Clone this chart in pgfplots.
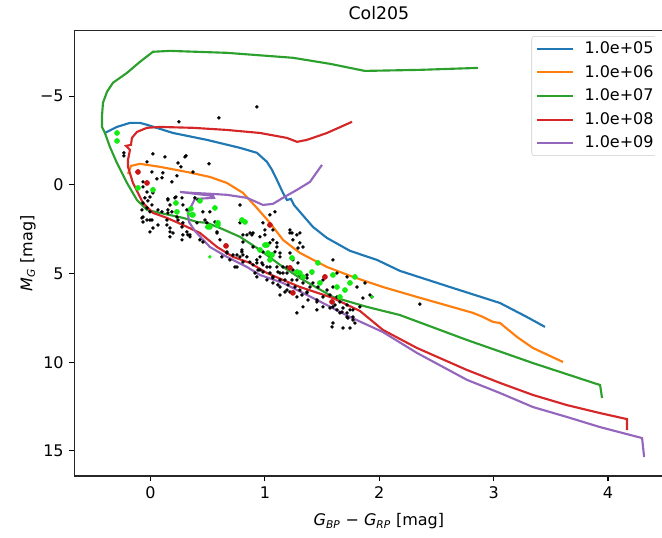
\documentclass[border=0pt]{standalone}
\usepackage{fontspec}
\setmainfont{DejaVu Sans}
\usepackage{pgfplots}
\pgfplotsset{compat=1.18}
\definecolor{cblue}{HTML}{1F77B4}
\definecolor{corange}{HTML}{FF7F0E}
\definecolor{cgreen}{HTML}{2CA02C}
\definecolor{cred}{HTML}{D62728}
\definecolor{cpurple}{HTML}{9467BD}
\definecolor{dotgreen}{HTML}{14EC14}
\definecolor{dotred}{HTML}{C81414}
\begin{document}
\fontsize{12}{14.5}\selectfont
\begin{tikzpicture}
\begin{axis}[
  name=ax,
  scale only axis,
  width=456.9pt, height=334pt,
  xmin=-0.667, xmax=4.66,
  ymin=-8.7, ymax=16.42,
  y dir=reverse,
  clip=false,
  xtick={0,1,2,3,4}, xticklabels={0,1,2,3,4},
  ytick={-5,0,5,10,15}, yticklabels={−5,0,5,10,15},
  tick pos=left, tick align=outside,
  major tick length=3.75pt,
  every tick/.style={black, line width=0.8pt},
  axis line style={draw=none},
  /pgf/number format/assume math mode=true,
  ticklabel style={font=\fontsize{12}{14.5}\selectfont},
  title={Col205},
  title style={font=\fontsize{13}{15}\selectfont, yshift=-2pt},
  xlabel={{\itshape G}\textsubscript{\itshape BP} − {\itshape G}\textsubscript{\itshape RP} [mag]},
  ylabel={{\itshape M}\textsubscript{\itshape G} [mag]},
  label style={font=\fontsize{12}{14.5}\selectfont},
  xlabel style={yshift=-3pt},
  ylabel style={yshift=-5pt},
  legend cell align=left,
  legend style={at={(0.7505,0.988)}, anchor=north west, draw=black!20, rounded corners=2pt,
    fill=white, fill opacity=0.8, text opacity=1, font=\fontsize{12}{14.5}\selectfont,
    inner xsep=3pt, inner ysep=2pt, row sep=3pt},
  legend image code/.code={\draw[#1, line width=1.6pt] (0pt,0pt) -- (27pt,0pt);},
]
% 1e5
\addplot[cblue, line width=1.6pt] coordinates {
(-0.399,-2.93) (-0.294,-3.27) (-0.180,-3.50) (-0.093,-3.50) (-0.031,-3.39) (0.196,-2.93) (0.493,-2.54) (0.782,-2.09) (0.930,-1.81) (1.018,-1.30) (1.062,-0.85) (1.105,-0.28) (1.158,0.45) (1.193,0.85) (1.228,0.79) (1.254,1.13) (1.306,1.52) (1.420,2.37) (1.542,2.99) (1.744,3.72) (1.980,4.23) (2.181,4.85) (2.618,5.76) (3.055,6.66) (3.291,7.45) (3.449,8.01)
};
\addlegendentry{\hspace*{6pt}1.0e+05}
% 1e6
\addplot[corange, line width=1.6pt] coordinates {
(-0.197,-0.62) (-0.171,-1.07) (-0.093,-1.19) (0.082,-1.02) (0.318,-0.73) (0.519,-0.45) (0.668,-0.11) (0.808,0.45) (0.930,1.30) (1.044,2.14) (1.158,3.10) (1.307,3.84) (1.543,4.63) (1.770,5.19) (2.032,5.76) (2.330,6.32) (2.820,7.22) (2.907,7.45) (2.995,7.73) (3.056,7.79) (3.205,8.58) (3.344,9.20) (3.607,9.99)
};
\addlegendentry{\hspace*{6pt}1.0e+06}
% 1e7
\addplot[cgreen, line width=1.6pt] coordinates {
(2.863,-6.60) (2.356,-6.49) (1.874,-6.43) (1.569,-6.83) (1.245,-7.17) (0.668,-7.45) (0.170,-7.56) (0.021,-7.51) (-0.093,-6.94) (-0.206,-6.32) (-0.329,-5.76) (-0.381,-5.25) (-0.416,-4.63) (-0.425,-3.84) (-0.425,-3.27) (-0.399,-2.93) (-0.355,-2.14) (-0.294,-1.24) (-0.206,-0.11) (-0.119,0.85) (-0.031,1.41) (0.083,1.58) (0.284,1.86) (0.407,2.09) (0.494,2.14) (0.607,2.43) (0.782,2.93) (0.957,3.67) (1.132,4.51) (1.306,5.25) (1.595,6.32) (1.892,6.88) (2.180,7.34) (2.768,8.75) (3.344,10.05) (3.931,11.29) (3.948,12.02)
};
\addlegendentry{\hspace*{6pt}1.0e+07}
% 1e8
\addplot[cred, line width=1.6pt] coordinates {
(1.762,-3.56) (1.543,-2.93) (1.368,-2.54) (1.281,-2.43) (1.193,-2.65) (0.957,-2.93) (0.668,-3.10) (0.371,-3.22) (0.082,-3.27) (-0.031,-3.22) (-0.119,-2.99) (-0.163,-2.65) (-0.171,-2.26) (-0.215,-2.20) (-0.180,-1.98) (-0.197,-1.41) (-0.197,-1.02) (-0.154,-0.11) (-0.066,1.02) (0.021,1.58) (0.143,1.86) (0.283,2.26) (0.432,2.71) (0.581,3.50) (0.721,4.06) (0.869,4.40) (1.018,4.97) (1.158,5.36) (1.307,5.76) (1.595,6.38) (1.831,7.11) (2.032,8.18) (2.330,9.20) (2.767,10.44) (3.056,11.17) (3.344,11.85) (3.641,12.42) (3.930,12.87) (4.166,13.21) (4.166,13.83)
};
\addlegendentry{\hspace*{6pt}1.0e+08}
% 1e9
\addplot[cpurple, line width=1.6pt] coordinates {
(1.499,-1.13) (1.394,-0.17) (1.280,0.28) (1.158,0.73) (1.070,1.07) (0.983,1.13) (0.843,0.73) (0.668,0.56) (0.546,0.51) (0.371,0.45) (0.257,0.40) (0.546,0.62) (0.555,0.73) (0.388,0.79) (0.362,1.13) (0.327,1.58) (0.336,2.09) (0.388,2.60) (0.519,3.50) (0.668,4.06) (0.843,4.63) (0.957,5.08) (1.158,5.53) (1.455,6.49) (1.744,7.45) (2.032,8.30) (2.330,9.48) (2.768,11.00) (3.056,11.74) (3.344,12.53) (3.641,13.09) (3.930,13.66) (4.298,14.28) (4.316,15.35)
};
\addlegendentry{\hspace*{6pt}1.0e+09}
% field / member stars (black)
\addplot[only marks, mark=*, mark size=1.1pt, black, forget plot] coordinates {
(-0.233,-1.81) (-0.233,-1.64) (0.021,-1.75) (0.126,-1.58) (0.310,-1.64) (0.240,-1.24) (0.266,-1.02) (0.511,-1.19) (-0.031,-1.30) (0.012,-0.73) (0.108,-0.68) (0.100,-0.40) (0.056,-0.34) (0.231,-0.51) (0.187,-0.17) (0.371,-0.73) (-0.066,-0.17) (-0.031,-0.11) (-0.066,0.11) (-0.031,0.40) (0.021,0.45) (-0.005,0.68) (-0.049,0.73) (-0.023,0.90) (-0.066,1.02) (0.012,1.13) (-0.031,1.30) (-0.075,1.41) (-0.005,1.52) (-0.066,1.81) (-0.031,1.98) (0.012,1.98) (0.065,1.41) (0.100,1.52) (0.152,0.85) (0.213,0.73) (0.170,1.13) (0.152,1.41) (0.187,1.52) (0.275,0.73) (0.283,1.13) (0.231,1.81) (0.143,1.98) (0.021,2.43) (-0.005,2.65) (0.143,2.26) (0.170,2.43) (0.275,2.37) (0.283,2.82) (0.327,2.82) (0.170,2.93) (0.432,3.10) (0.493,2.14) (0.519,1.52) (0.458,1.52) (0.415,0.85) (0.581,2.71) (0.607,3.10) (-0.066,2.09) (-0.075,1.86) (0.222,0.68) (0.152,0.79) (0.318,1.41) (0.152,1.58) (0.240,1.98) (0.283,2.14) (0.196,2.71) (0.318,2.65) (0.388,0.73) (0.406,2.14) (0.493,2.37) (0.581,2.65) (0.563,2.09) (0.782,1.13) (0.782,2.14) (0.870,2.71) (0.896,2.71) (0.808,3.22) (0.896,3.50) (0.957,2.93) (1.044,1.69) (1.088,1.52) (0.983,2.14) (1.070,2.54) (1.000,2.54) (1.219,2.54) (1.219,2.71) (1.245,3.10) (1.105,3.27) (1.088,3.78) (0.957,4.06) (1.132,4.06) (0.808,3.95) (0.721,3.95) (0.668,3.84) (0.799,3.78) (0.869,4.35) (0.930,4.40) (0.983,4.51) (1.044,4.63) (0.957,4.80) (1.044,4.97) (1.114,4.91) (1.158,4.97) (1.070,5.19) (1.193,4.63) (1.245,4.80) (1.306,5.08) (1.368,5.08) (1.289,4.40) (1.333,3.50) (1.306,3.27) (1.280,2.82) (0.756,4.63) (0.694,4.23) (0.345,2.93) (0.275,3.10) (0.458,3.22) (0.624,4.06) (0.476,1.98) (0.808,2.82) (0.887,2.82) (1.000,2.82) (1.070,3.10) (1.237,2.71) (1.289,3.56) (1.105,3.50) (1.132,3.84) (0.957,3.67) (0.799,3.67) (0.756,3.95) (0.843,4.06) (0.808,4.35) (0.930,4.23) (0.896,4.51) (0.974,4.40) (1.018,4.63) (0.940,4.80) (0.983,4.91) (0.913,4.97) (1.105,4.63) (1.158,4.63) (1.132,4.97) (1.193,4.97) (1.070,5.25) (1.132,5.36) (1.175,5.36) (1.202,5.64) (1.114,5.64) (1.237,5.36) (1.280,5.36) (1.263,5.76) (1.306,5.93) (1.219,6.04) (1.175,6.04) (1.132,6.21) (1.280,6.32) (1.324,6.21) (1.368,6.04) (1.394,5.76) (1.333,5.53) (1.420,5.53) (1.464,5.76) (1.377,6.49) (1.455,6.60) (1.508,6.32) (1.569,6.21) (1.543,5.93) (1.595,5.76) (1.630,6.32) (1.656,6.60) (1.613,6.77) (1.569,6.94) (1.630,7.05) (1.674,7.17) (1.718,7.22) (1.744,7.05) (1.718,6.77) (1.683,6.94) (1.770,7.45) (1.726,7.51) (1.787,7.79) (1.744,8.07) (1.683,8.07) (1.587,8.01) (1.280,7.22) (1.455,7.05) (1.508,6.88) (1.333,6.88) (1.857,6.38) (1.919,6.21) (1.411,4.97) (1.368,5.25) (1.508,5.36) (1.630,4.97) (1.718,5.19) (1.805,5.76) (1.595,4.23) (1.245,4.23) (1.219,3.84) (1.044,3.27) (0.983,3.78) (0.738,4.63) (0.782,4.06) (0.930,-4.40) (0.598,-3.78) (0.248,-3.56) (0.301,-1.58) (2.355,6.72) (1.936,6.32) (1.875,5.53) (0.930,5.19) (1.018,5.36) (1.070,5.53) (1.132,5.76) (1.193,5.93) (1.368,6.09) (1.455,6.49) (1.595,6.88) (1.656,7.22) (1.718,7.45) (1.770,7.62) (1.595,7.79) (1.770,7.05) (1.831,6.88) (1.306,2.71) (0.843,2.82) (-0.005,1.98) (0.065,2.26) (0.170,2.65) (0.345,2.82) (0.668,3.78)
};
% green stars
\addplot[only marks, mark=*, mark size=1.9pt, dotgreen, forget plot] coordinates {
(-0.293,-2.93) (-0.293,-2.48) (-0.110,0.17) (0.021,0.28) (0.222,1.02) (0.362,1.69) (0.231,1.52) (0.432,0.90) (0.563,1.30) (0.502,2.37) (0.589,2.26) (0.353,1.35) (0.371,1.69) (0.519,2.37) (0.589,2.14) (0.799,1.98) (0.826,2.09) (1.000,3.39) (0.957,3.67) (1.027,3.84) (1.237,4.12) (1.044,4.23) (1.280,4.91) (1.333,5.19) (1.018,3.39) (1.062,3.95) (1.306,4.97) (1.411,4.91) (1.481,5.53) (1.595,5.08) (1.630,5.76) (1.700,5.93) (1.744,5.53) (1.787,5.19) (1.464,4.40) (1.656,6.32)
};
\addplot[only marks, mark=*, mark size=1.1pt, dotgreen, forget plot] coordinates {
(0.519,4.06) (1.936,6.32) (0.330,1.60)
};
% red stars
\addplot[only marks, mark=*, mark size=1.9pt, dotred, forget plot] coordinates {
(-0.110,-0.73) (-0.031,-0.11) (0.660,3.44) (1.044,2.26) (1.219,4.68) (1.525,5.19) (1.245,6.09) (1.587,6.60)
};
\end{axis}
\fill[white] ([shift={(435.5pt,-46pt)}]ax.south west) rectangle ([shift={(446pt,24pt)}]ax.north west);
\draw[line width=0.8pt, black!85] ([shift={(446pt,0pt)}]ax.north west) -- (ax.north west) -- (ax.south west) -- ([shift={(446pt,0pt)}]ax.south west);
\pgfresetboundingbox
\path[use as bounding box] ([shift={(-55.7pt,-45.75pt)}]ax.south west) rectangle ([shift={(440.8pt,23pt)}]ax.north west);
\end{tikzpicture}
\end{document}
